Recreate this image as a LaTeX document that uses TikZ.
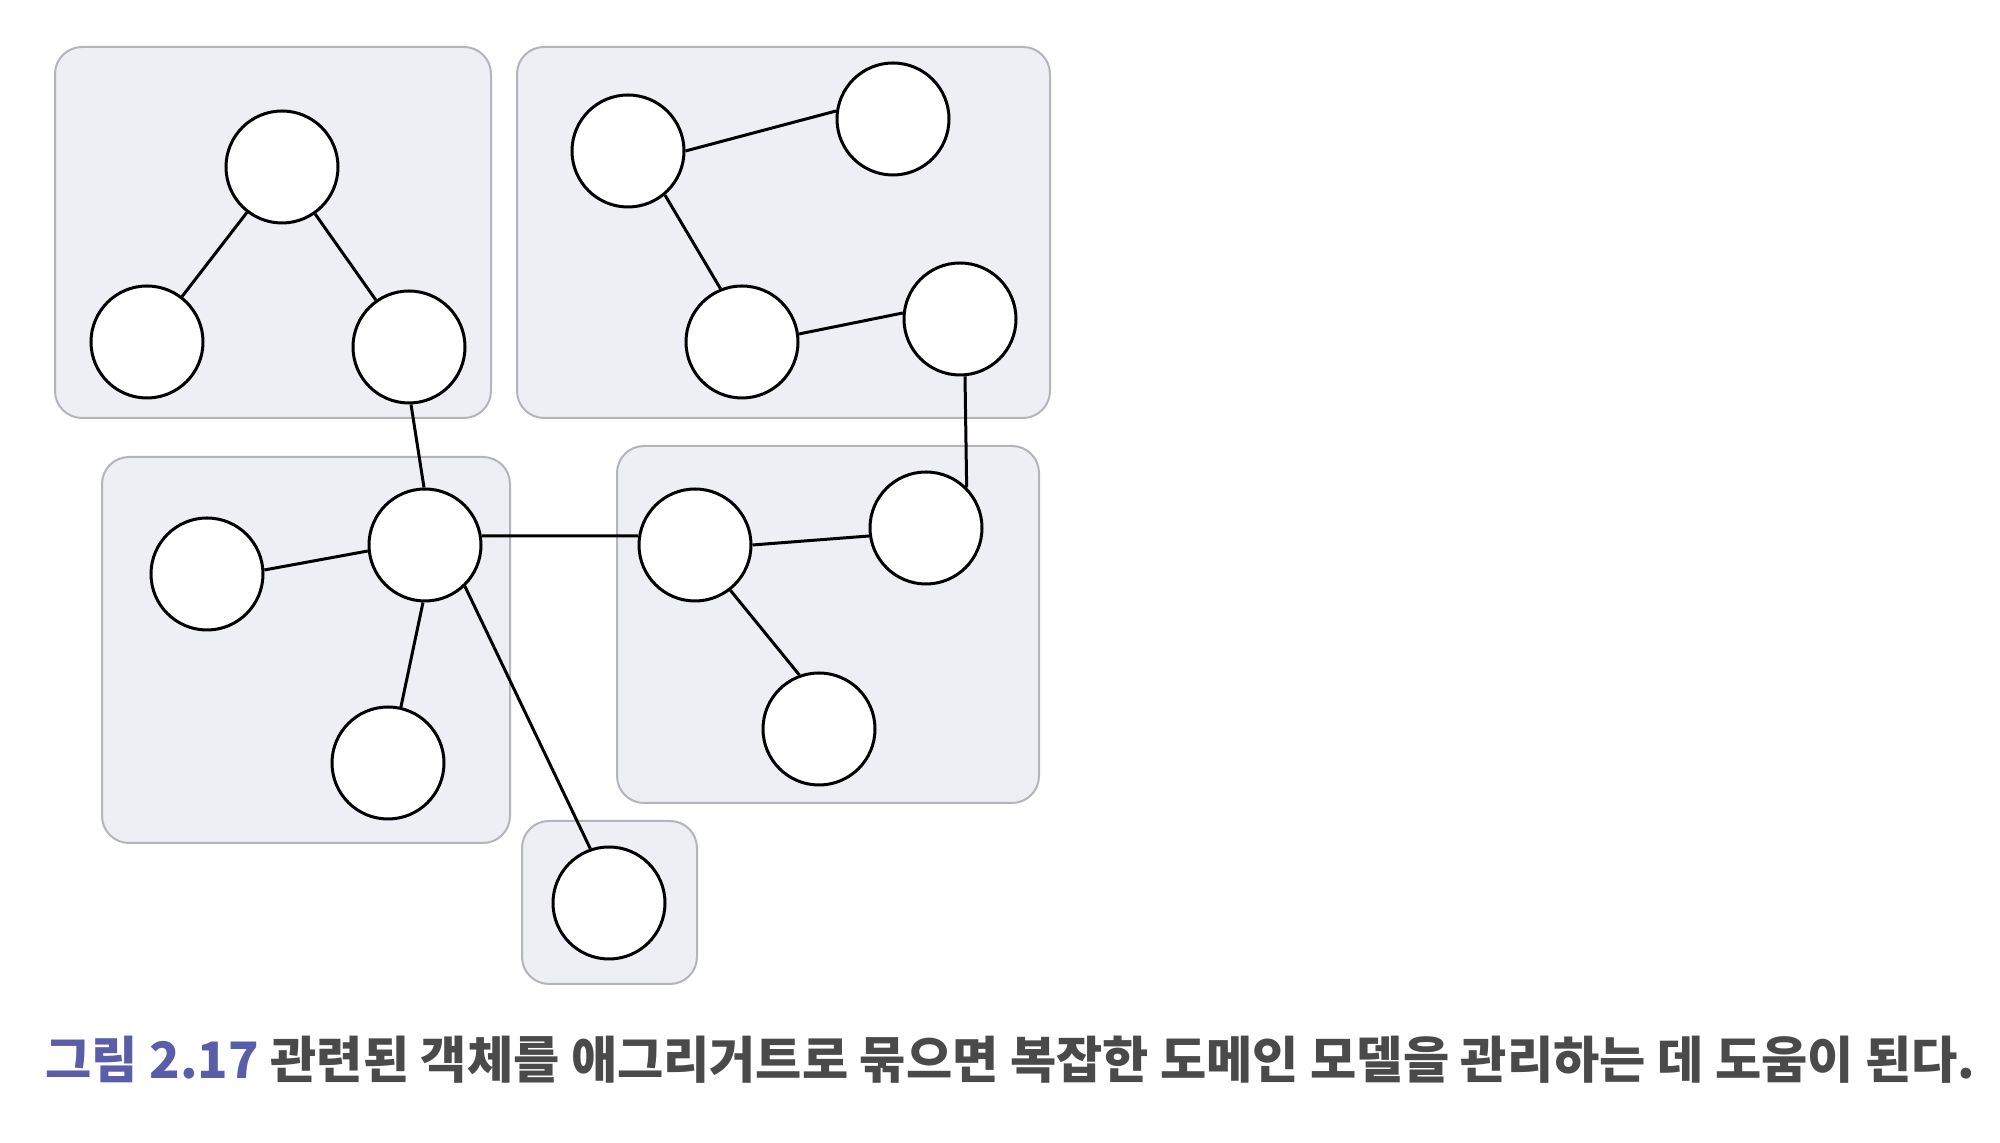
\documentclass[tikz,border=0pt]{standalone}
\usepackage{fontspec}
\usepackage{xcolor,tikz}
\usetikzlibrary{positioning}
\newfontfamily\krfont{Noto Sans CJK KR}
\definecolor{AggBack}{HTML}{EEEFF4}
\definecolor{AggBorder}{HTML}{B4B5BA}
\definecolor{CapBlue}{HTML}{5A5EAA}
\definecolor{CapText}{HTML}{4A4A4A}
\tikzset{aggr/.style={draw=AggBorder,fill=AggBack,line width=.2mm,rounded corners=2.7mm},
 obj/.style={circle,draw=black,fill=white,line width=.3mm,minimum size=11.2mm,inner sep=0pt},
 link/.style={draw=black,line width=.3mm}}

\begin{document}
\begin{tikzpicture}[x=.1mm,y=-.1mm]
\useasboundingbox (0,0) rectangle (2000,1143);
% aggregates
\draw[aggr] (55,47) rectangle (491,418);\draw[aggr] (517,47) rectangle (1050,418);
\draw[aggr] (102,457) rectangle (510,843);\draw[aggr] (617,446) rectangle (1039,803);
\draw[aggr] (522,821) rectangle (697,984);
% objects
\node[obj] (a1) at (282,167){};\node[obj] (a2) at (147,342){};\node[obj] (a3) at (409,347){};
\node[obj] (b1) at (628,151){};\node[obj] (b2) at (893,119){};
\node[obj] (b3) at (742,342){};\node[obj] (b4) at (960,319){};
\node[obj] (c1) at (425,545){};\node[obj] (c2) at (207,574){};\node[obj] (c3) at (388,763){};
\node[obj] (d1) at (695,545){};\node[obj] (d2) at (926,528){};\node[obj] (d3) at (819,729){};
\node[obj] (e1) at (609,903){};
% references
\draw[link] (a1)--(a2) (a1)--(a3) (a3.-88)--(c1.91);
\draw[link] (b1.0)--(b2.172) (b1.-50)--(b3.112) (b3.8)--(b4.174) (b4.-85)--(d2.45);
\draw[link] (c2.4)--(c1.186) (c1.-92)--(c3.77) (c1.-46)--(e1.109) (c1.9)--(d1.171);
\draw[link] (d1.0)--(d2.188) (d1.-52)--(d3.110);
\node[anchor=west,inner sep=0pt,font=\krfont\bfseries\fontsize{14.3pt}{16pt}\selectfont] (cap) at (45,1060)
 {\textcolor{CapBlue}{그림 2.17} \textcolor{CapText}{관련된 객체를 애그리거트로 묶으면 복잡한 도메인 모델을 관리하는 데 도움이 된다.}};
\end{tikzpicture}
\end{document}
